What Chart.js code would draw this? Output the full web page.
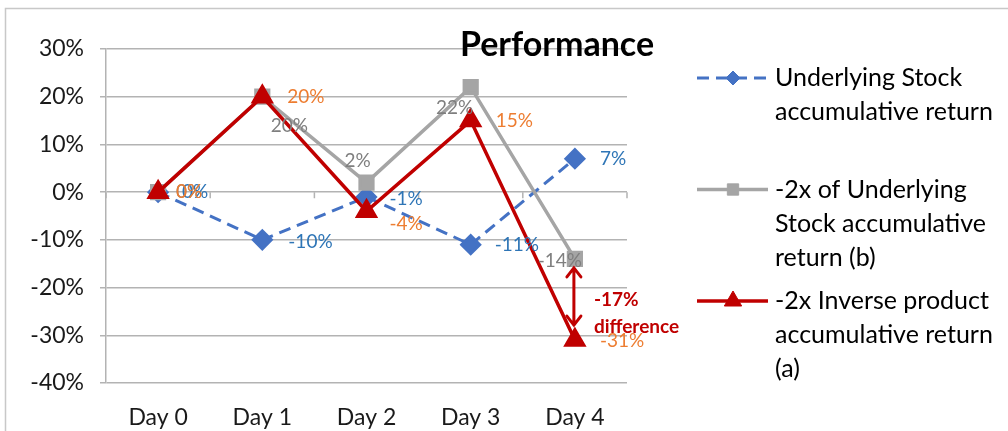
<!DOCTYPE html>
<html>
<head>
<meta charset="utf-8">
<script src="https://cdn.jsdelivr.net/npm/chart.js@4.4.0/dist/chart.umd.min.js"></script>
<style>
  html, body { margin: 0; padding: 0; background: #fff; }
</style>
</head>
<body>
<canvas id="perfChart" width="1008" height="431"></canvas>
<script>
const days = ["Day 0", "Day 1", "Day 2", "Day 3", "Day 4"];
const underlying = [0, -10, -1, -11, 7];
const minus2xUnderlying = [0, 20, 2, 22, -14];
const inverseProduct = [0, 20, -4, 15, -31];
const seriesNames = [
  ["Underlying Stock", "accumulative return"],
  ["-2x of Underlying", "Stock accumulative", "return (b)"],
  ["-2x Inverse product", "accumulative return", "(a)"]
];
const chartTitle = "Performance";

const FONT = "Lato, 'Open Sans', sans-serif";
const GRID = "#b3b3b3";
const RED = "#c00000";

// white background + outer frame like the excel chart box
const framePlugin = {
  id: "frame",
  beforeDraw(chart) {
    const ctx = chart.ctx;
    ctx.save();
    ctx.fillStyle = "#fff";
    ctx.fillRect(0, 0, chart.width, chart.height);
    ctx.strokeStyle = "#c8c8c8";
    ctx.lineWidth = 1.5;
    ctx.strokeRect(5.5, 8.5, chart.width + 20, chart.height + 20);
    ctx.restore();
  }
};

// small tick marks on the 0% axis line between categories
const zeroTicksPlugin = {
  id: "zeroTicks",
  beforeDatasetsDraw(chart) {
    const { ctx, scales: { x, y } } = chart;
    const y0 = y.getPixelForValue(0);
    ctx.save();
    ctx.strokeStyle = GRID;
    ctx.lineWidth = 1.5;
    ctx.beginPath();
    for (let i = 0; i <= days.length; i++) {
      const px = x.getPixelForValue(i - 0.5);
      ctx.moveTo(px, y0);
      ctx.lineTo(px, y0 + 6);
    }
    ctx.stroke();
    ctx.restore();
  }
};

const pointLabelsPlugin = {
  id: "pointLabels",
  afterDatasetsDraw(chart) {
    const ctx = chart.ctx;
    ctx.save();
    ctx.font = "19px " + FONT;
    ctx.textBaseline = "middle";
    chart.data.datasets.forEach((ds, di) => {
      const meta = chart.getDatasetMeta(di);
      meta.data.forEach((pt, i) => {
        const off = ds.labelOffsets[i];
        ctx.fillStyle = ds.labelColor;
        ctx.textAlign = off[2] || "left";
        ctx.fillText(ds.data[i] + "%", pt.x + off[0], pt.y + off[1]);
      });
    });
    ctx.restore();
  }
};

// double arrow showing the gap between (b) and (a) on the last day
const gapPlugin = {
  id: "gapArrow",
  afterDatasetsDraw(chart) {
    const { ctx, scales: { x, y } } = chart;
    const last = days.length - 1;
    const px = x.getPixelForValue(last) - 1;
    const top = y.getPixelForValue(minus2xUnderlying[last]) + 9;
    const bot = y.getPixelForValue(inverseProduct[last]) - 15;
    ctx.save();
    ctx.strokeStyle = RED;
    ctx.lineWidth = 3;
    ctx.lineCap = "round";
    ctx.beginPath();
    ctx.moveTo(px, top); ctx.lineTo(px, bot);
    ctx.moveTo(px - 7, top + 9); ctx.lineTo(px, top); ctx.lineTo(px + 7, top + 9);
    ctx.moveTo(px - 7, bot - 9); ctx.lineTo(px, bot); ctx.lineTo(px + 7, bot - 9);
    ctx.stroke();
    const mid = (top + bot) / 2;
    ctx.fillStyle = RED;
    ctx.font = "bold 19px " + FONT;
    ctx.textAlign = "left";
    ctx.textBaseline = "middle";
    ctx.fillText((inverseProduct[last] - minus2xUnderlying[last]) + "%", px + 20, mid + 3);
    ctx.fillText("difference", px + 20, mid + 30);
    ctx.restore();
  }
};

const titleLegendPlugin = {
  id: "titleLegend",
  afterDraw(chart) {
    const ctx = chart.ctx;
    ctx.save();
    ctx.fillStyle = "#000";
    ctx.font = "bold 34px " + FONT;
    ctx.textAlign = "center";
    ctx.textBaseline = "middle";
    ctx.fillText(chartTitle, 557, 45);

    ctx.font = "25px " + FONT;
    ctx.textAlign = "left";
    chart.data.datasets.forEach((ds, i) => {
      const y0 = 78 + i * 111.5;
      ctx.save();
      ctx.strokeStyle = ds.borderColor;
      ctx.lineWidth = ds.borderWidth;
      ctx.setLineDash(ds.borderDash || []);
      ctx.beginPath();
      ctx.moveTo(697, y0); ctx.lineTo(768, y0);
      ctx.stroke();
      ctx.restore();
      ctx.fillStyle = ds.pointBackgroundColor;
      ctx.strokeStyle = ds.pointBackgroundColor;
      Chart.helpers.drawPoint(ctx, { pointStyle: ds.pointStyle, radius: ds.legendRadius, rotation: 0, borderWidth: 1 }, 733, y0);
      ctx.fillStyle = "#000";
      seriesNames[i].forEach((line, k) => ctx.fillText(line, 775, y0 + k * 34));
    });
    ctx.restore();
  }
};

new Chart(document.getElementById("perfChart"), {
  type: "line",
  data: {
    labels: days,
    datasets: [
      {
        label: seriesNames[0].join(" "),
        data: underlying,
        borderColor: "#4472c4",
        borderWidth: 3,
        borderDash: [12, 7],
        pointStyle: "rectRot",
        pointRadius: 9,
        legendRadius: 7,
        pointBackgroundColor: "#4472c4",
        pointBorderColor: "#4472c4",
        labelColor: "#2e75b6",
        labelOffsets: [[24, 0], [26, 2], [23, 2], [24, 0], [25, 0]],
        tension: 0,
        order: 3
      },
      {
        label: seriesNames[1].join(" "),
        data: minus2xUnderlying,
        borderColor: "#a5a5a5",
        borderWidth: 3.5,
        pointStyle: "rect",
        pointRadius: 9,
        legendRadius: 8,
        pointBackgroundColor: "#a5a5a5",
        pointBorderColor: "#a5a5a5",
        labelColor: "#7f7f7f",
        labelOffsets: [[18, 0], [27, 29, "center"], [-9, -22, "center"], [-16, 21, "center"], [-15, 2, "center"]],
        tension: 0,
        order: 2
      },
      {
        label: seriesNames[2].join(" "),
        data: inverseProduct,
        borderColor: RED,
        borderWidth: 3.5,
        pointStyle: "triangle",
        pointRadius: 10,
        legendRadius: 10,
        pointBackgroundColor: RED,
        pointBorderColor: RED,
        labelColor: "#ed7d31",
        labelOffsets: [[18, 0], [25, 0], [23, 13], [25, 0], [25, 1]],
        tension: 0,
        order: 1
      }
    ]
  },
  options: {
    responsive: false,
    animation: false,
    layout: { padding: { top: 49, right: 381, bottom: 0, left: 0 } },
    plugins: { legend: { display: false }, tooltip: { enabled: false }, title: { display: false } },
    scales: {
      x: {
        offset: true,
        grid: { display: false, drawTicks: false },
        border: { display: false },
        ticks: { color: "#1a1a1a", font: { size: 23, family: FONT }, padding: 21 },
        afterFit(s) { s.height = 48; }
      },
      y: {
        min: -40, max: 30,
        ticks: { stepSize: 10, callback: v => v + "%", color: "#1a1a1a", font: { size: 23, family: FONT }, padding: 16 },
        grid: { color: GRID, lineWidth: 1.5, drawTicks: true, tickLength: 6, tickColor: GRID },
        border: { display: true, color: GRID, width: 1.5 },
        afterFit(s) { s.width = 106; }
      }
    }
  },
  plugins: [framePlugin, zeroTicksPlugin, pointLabelsPlugin, gapPlugin, titleLegendPlugin]
});
</script>
</body>
</html>
